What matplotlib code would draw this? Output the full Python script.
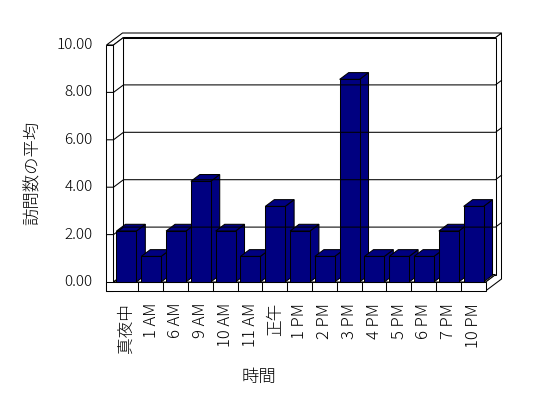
import matplotlib
matplotlib.use("Agg")
import matplotlib.pyplot as plt
from matplotlib.patches import Polygon

plt.rcParams['font.family'] = ['Noto Sans CJK JP', 'DejaVu Sans']

hours = ["真夜中", "1 AM", "6 AM", "9 AM", "10 AM", "11 AM", "正午",
         "1 PM", "2 PM", "3 PM", "4 PM", "5 PM", "6 PM", "7 PM", "10 PM"]
avg_visits = [2.15, 1.08, 2.15, 4.25, 2.15, 1.08, 3.19,
              2.15, 1.08, 8.55, 1.08, 1.08, 1.08, 2.15, 3.19]
y_ticks = [0, 2, 4, 6, 8, 10]

# pixel layout of the "3d" box (excel style)
X0, PX = 113.5, 24.8      # px of category 0, px per category
Y0, PY = 282.0, 23.7      # px of value 0, px per unit
W, H = 548, 398
OX, OY = 10 / PX, 7.5 / PY    # oblique offset for one unit of depth
TX, TV, TZ = 7 / PX, 9 / PY, 0.6   # wall / floor thickness
NC = len(hours)
VMAX = y_ticks[-1]


def P(x, v, z):
    return (x + z * OX, v + z * OY)


fig = plt.figure(figsize=(W / 100, H / 100), dpi=100)
ax = fig.add_axes([0, 0, 1, 1])
ax.set_xlim(-X0 / PX, (W - X0) / PX)
ax.set_ylim((Y0 - H) / PY, Y0 / PY)
ax.axis('off')

lw = 0.75


def face(pts, fc='white'):
    ax.add_patch(Polygon(pts, closed=True, facecolor=fc, edgecolor='black',
                         linewidth=lw, joinstyle='miter'))


# walls and floor
face([P(NC, -TV, 0), P(NC, 0, 0), P(NC, 0, 1), P(NC, VMAX, 1),
      P(NC, VMAX, 1 + TZ), P(NC, -TV, 1 + TZ)])
face([P(-TX, VMAX, 0), P(0, VMAX, 0), P(0, VMAX, 1), P(NC, VMAX, 1),
      P(NC, VMAX, 1 + TZ), P(-TX, VMAX, 1 + TZ)])
face([P(0, 0, 1), P(NC, 0, 1), P(NC, VMAX, 1), P(0, VMAX, 1)])
face([P(0, 0, 0), P(0, 0, 1), P(0, VMAX, 1), P(0, VMAX, 0)])
face([P(0, 0, 0), P(NC, 0, 0), P(NC, 0, 1), P(0, 0, 1)])

# gridlines
for t in y_ticks[1:-1]:
    pts = [P(-TX, t, 0), P(0, t, 0), P(0, t, 1), P(NC, t, 1), P(NC, t, 1 + TZ)]
    ax.plot([p[0] for p in pts], [p[1] for p in pts], color='black', lw=lw)

face([P(-TX, -TV, 0), P(0, -TV, 0), P(0, VMAX, 0), P(-TX, VMAX, 0)])
face([P(-TX, -TV, 0), P(NC, -TV, 0), P(NC, 0, 0), P(-TX, 0, 0)])
for k in range(1, NC):
    ax.plot([k, k], [-TV, 0], color='black', lw=lw)

# bars
bw, off, depth = 0.8, 0.12, 0.9
for i, v in enumerate(avg_visits):
    x0 = i + off
    x1 = x0 + bw
    face([P(x1, 0, 0), P(x1, 0, depth), P(x1, v, depth), P(x1, v, 0)], '#000080')
    face([P(x0, v, 0), P(x1, v, 0), P(x1, v, depth), P(x0, v, depth)], '#000080')
    face([P(x0, 0, 0), P(x1, 0, 0), P(x1, v, 0), P(x0, v, 0)], '#000080')

# tick labels
for t in y_ticks:
    ax.text(-TX - 0.55, t, f"{t:.2f}", ha='right', va='center', fontsize=11,
            fontweight='light')
for i, lab in enumerate(hours):
    ax.text(i + 0.52, -0.88, lab, rotation=90, ha='center', va='top', fontsize=12,
            fontweight='light')

fig.text(33 / W, 1 - 173 / H, "訪問数の平均", rotation=90, ha='center', va='center',
         fontsize=12.5, fontweight='light')
fig.text(259 / W, 1 - 377 / H, "時間", ha='center', va='center', fontsize=12.5,
         fontweight='light')

fig.savefig("out.png", dpi=100)
